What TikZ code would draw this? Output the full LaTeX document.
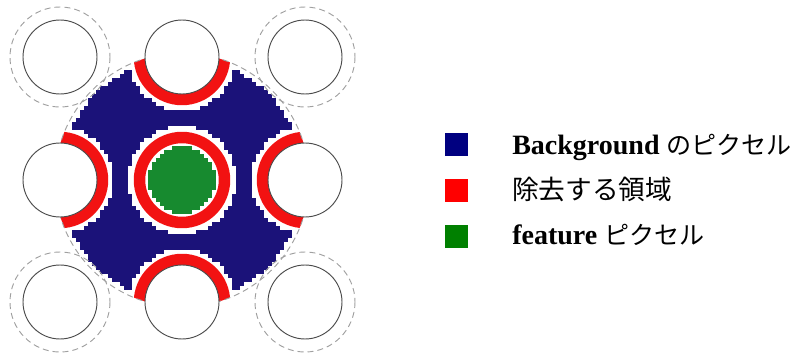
\documentclass[tikz,border=0pt]{standalone}
\usepackage{fontspec}
\setmainfont{Liberation Serif}
\newfontfamily\jpfont{Noto Sans CJK JP}
\usepackage{tikz}
\usetikzlibrary{positioning}
\definecolor{cBg}{HTML}{1B1279}
\definecolor{cCut}{HTML}{F21212}
\definecolor{cFeat}{HTML}{178A2F}
\definecolor{cBgKey}{HTML}{000080}
\definecolor{cCutKey}{HTML}{FF0000}
\definecolor{cFeatKey}{HTML}{008000}
\definecolor{cLine}{HTML}{4A4A4A}
\definecolor{cDash}{HTML}{A0A0A0}
\newcommand\jp[1]{{\jpfont\fontsize{18.8}{24}\selectfont #1}}
\tikzset{
  hole/.style={draw=cLine, line width=0.7pt, fill=white},
  halo/.style={draw=cDash, line width=0.7pt, dash pattern=on 4.5pt off 3pt},
  cut/.style={draw=cCut, line width=8.6pt},
  key/.style={minimum size=17.25pt, inner sep=0pt, fill=#1},
  lbl/.style={anchor=base west, inner sep=0pt, font=\fontsize{21}{24}\selectfont},
}

\begin{document}
\begin{tikzpicture}[x=0.75pt,y=-0.75pt, node distance=16.9pt]
  \useasboundingbox (0,0) rectangle (797,353);
  % background pixels, one row of 4px cells at a time
  \foreach \j in {-30,...,30}{
    \pgfmathtruncatemacro\W{floor(sqrt(930.25-\j*\j))}
    \pgfmathtruncatemacro\M{ceil(sqrt(max(0,182.25-\j*\j,175.5625-(\j-30.6)^2,175.5625-(\j+30.6)^2)))}
    \pgfmathtruncatemacro\A{min(\W,floor(30.6-sqrt(max(0,175.5625-\j*\j))))}
    \ifnum\A<\M\relax\else
      \fill[cBg] ({182+(\M-0.5)*4},{180+\j*4-2.2}) rectangle ({182+(\A+0.5)*4},{180+\j*4+2.2});
      \fill[cBg] ({182-(\M-0.5)*4},{180+\j*4-2.2}) rectangle ({182-(\A+0.5)*4},{180+\j*4+2.2});
    \fi
  }
  % feature pixels
  \foreach \j in {-8,...,8}{
    \pgfmathsetmacro\G{(floor(sqrt(68.9-\j*\j))+0.5)*4}
    \fill[cFeat] ({182-\G},{180+\j*4-2.2}) rectangle ({182+\G},{180+\j*4+2.2});
  }
  % cut regions
  \draw[cut] (182,180) circle (42.5);
  \begin{scope}
    \clip (182,180) circle (127);
    \foreach \p in {(182,57),(60,180),(305,180),(182,302)}
      \draw[cut] \p circle (42.5);
  \end{scope}
  \draw[halo] (182,180) circle (127);
  \foreach \p in {(60,57),(305,57),(60,302),(305,302)}
    \draw[halo] \p circle (50);
  \foreach \p in {(60,57),(182,57),(305,57),(60,180),(305,180),(60,302),(182,302),(305,302)}
    \draw[hole] \p circle (37);
  % legend
  \node[key=cBgKey] (kBg) at (456.5,144.5) {};
  \node[key=cCutKey, below=of kBg] (kCut) {};
  \node[key=cFeatKey, below=of kCut] (kFeat) {};
  \node[lbl] (tBg) at (512,155) {\textbf{Background} \jp{のピクセル}};
  \node[lbl] (tCut) at (512,199.5) {\jpfont\fontsize{20}{24}\selectfont 除去する領域};
  \node[lbl] (tFeat) at (512,244) {\textbf{feature} \jp{ピクセル}};
\end{tikzpicture}
\end{document}
